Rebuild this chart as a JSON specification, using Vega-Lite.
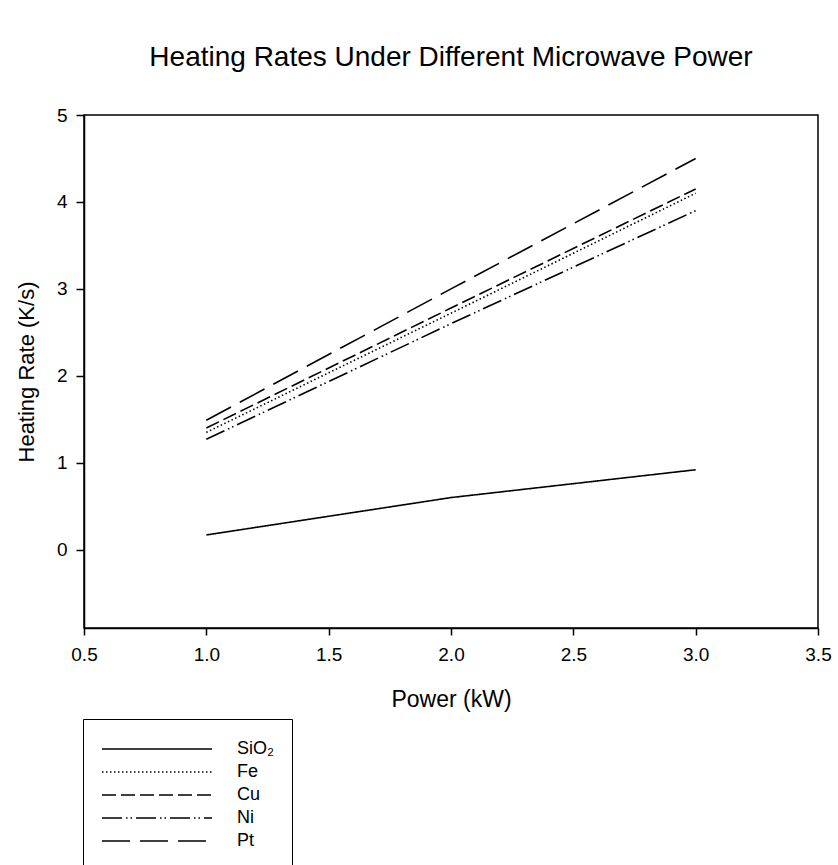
{
  "$schema": "https://vega.github.io/schema/vega-lite/v6.json",
  "autosize": {"type": "none"},
  "width": 734,
  "height": 513,
  "padding": {"left": 84, "top": 115, "right": 20, "bottom": 237},
  "title": {
    "text": "Heating Rates Under Different Microwave Power",
    "font": "Liberation Sans",
    "fontSize": 28,
    "fontWeight": "normal",
    "color": "black",
    "anchor": "middle",
    "offset": 34
  },
  "config": {
    "view": {"stroke": "black", "strokeWidth": 1.5},
    "font": "Liberation Sans"
  },
  "data": {
    "values": [
      {"series": "SiO₂", "power": 1.0, "rate": 0.17},
      {"series": "SiO₂", "power": 2.0, "rate": 0.6},
      {"series": "SiO₂", "power": 3.0, "rate": 0.92},
      {"series": "Fe", "power": 1.0, "rate": 1.35},
      {"series": "Fe", "power": 2.0, "rate": 2.72},
      {"series": "Fe", "power": 3.0, "rate": 4.1},
      {"series": "Cu", "power": 1.0, "rate": 1.4},
      {"series": "Cu", "power": 2.0, "rate": 2.78},
      {"series": "Cu", "power": 3.0, "rate": 4.15},
      {"series": "Ni", "power": 1.0, "rate": 1.27},
      {"series": "Ni", "power": 2.0, "rate": 2.6},
      {"series": "Ni", "power": 3.0, "rate": 3.9},
      {"series": "Pt", "power": 1.0, "rate": 1.49},
      {"series": "Pt", "power": 2.0, "rate": 3.0},
      {"series": "Pt", "power": 3.0, "rate": 4.5}
    ]
  },
  "mark": {"type": "line", "color": "black", "strokeWidth": 1.6},
  "encoding": {
    "x": {
      "field": "power",
      "type": "quantitative",
      "scale": {"domain": [0.5, 3.5], "nice": false, "zero": false},
      "axis": {
        "title": "Power (kW)",
        "values": [0.5, 1.0, 1.5, 2.0, 2.5, 3.0, 3.5],
        "format": ".1f",
        "grid": false,
        "domainColor": "black",
        "domainWidth": 1.5,
        "tickColor": "black",
        "tickWidth": 1.5,
        "tickSize": 7,
        "labelFontSize": 19,
        "labelColor": "black",
        "labelPadding": 10,
        "labelFlush": false,
        "titleFontSize": 23,
        "titleFontWeight": "normal",
        "titleColor": "black",
        "titlePadding": 24
      }
    },
    "y": {
      "field": "rate",
      "type": "quantitative",
      "scale": {"domain": [-0.9, 5], "nice": false, "zero": false},
      "axis": {
        "title": "Heating Rate (K/s)",
        "values": [0, 1, 2, 3, 4, 5],
        "grid": false,
        "domainColor": "black",
        "domainWidth": 1.5,
        "tickColor": "black",
        "tickWidth": 1.5,
        "tickSize": 8,
        "labelFontSize": 19,
        "labelColor": "black",
        "labelPadding": 9,
        "titleFontSize": 22,
        "titleFontWeight": "normal",
        "titleColor": "black",
        "titlePadding": 18
      }
    },
    "strokeDash": {
      "field": "series",
      "type": "nominal",
      "scale": {
        "domain": ["SiO₂", "Fe", "Cu", "Ni", "Pt"],
        "range": [[1, 0], [1.5, 2.5], [14, 5], [20, 4, 1.5, 3, 1.5, 4], [28, 10]]
      },
      "legend": {
        "title": null,
        "orient": "none",
        "legendX": -1,
        "legendY": 604,
        "strokeColor": "black",
        "padding": 18,
        "symbolType": "M-1,0H9",
        "symbolSize": 484,
        "symbolStrokeWidth": 1.6,
        "symbolStrokeColor": "black",
        "labelOffset": 112,
        "labelFontSize": 18,
        "labelColor": "black",
        "rowPadding": 2
      }
    }
  }
}
